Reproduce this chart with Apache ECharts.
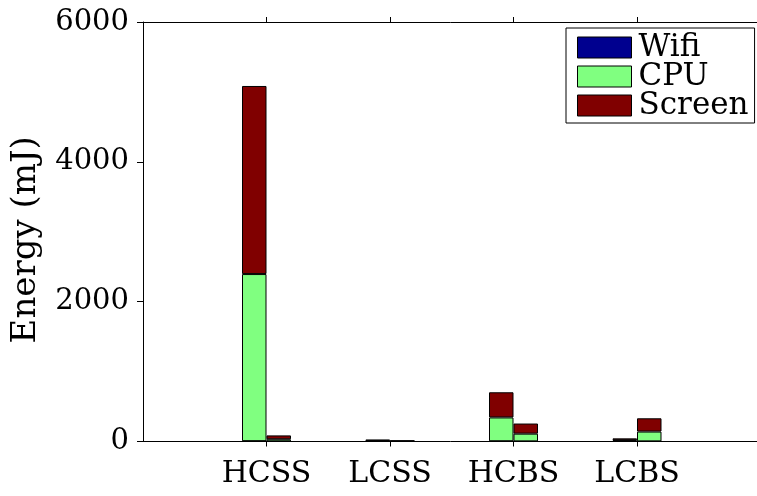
<!DOCTYPE html>
<html>
<head>
<meta charset="utf-8">
<script src="https://cdn.jsdelivr.net/npm/echarts@6/dist/echarts.min.js"></script>
<style>
html,body{margin:0;padding:0;background:#fff;}
#chart{width:757px;height:496px;}
</style>
</head>
<body>
<div id="chart"></div>
<script>
const categories = ['HCSS', 'LCSS', 'HCBS', 'LCBS'];
const yTicks = [0, 2000, 4000, 6000];
// left bar of each group
const wifiLeft = [5, 5, 4, 4];
const cpuLeft = [2390, 8, 340, 15];
const screenLeft = [2690, 12, 360, 26];
// right bar of each group
const wifiRight = [2, 2, 2, 2];
const cpuRight = [30, 4, 110, 140];
const screenRight = [55, 5, 145, 190];

const FONT = 'DejaVu Serif';
const axisCats = [''].concat(categories, ['']);
const pad = arr => ['-'].concat(arr, ['-']);
const colors = { Wifi: '#00008F', CPU: '#80FF80', Screen: '#800000' };

function bar(name, stack, data) {
  return {
    name: name, type: 'bar', stack: stack, data: pad(data),
    barWidth: 24.5, barGap: '0%',
    itemStyle: { color: colors[name], borderColor: '#000', borderWidth: 1 },
    emphasis: { disabled: true }
  };
}

const chart = echarts.init(document.getElementById('chart'), null, { renderer: 'canvas' });
const showTick = (i, v) => v !== '';
chart.setOption({
  animation: false,
  backgroundColor: '#fff',
  textStyle: { fontFamily: FONT },
  grid: { left: 143, top: 22, width: 617.5, bottom: 54.5, containLabel: false, outerBoundsMode: 'none' },
  legend: {
    orient: 'vertical', left: 566, top: 28,
    data: ['Wifi', 'CPU', 'Screen'],
    itemWidth: 54, itemHeight: 21, itemGap: -2,
    padding: [4, 6, 2, 11],
    backgroundColor: '#fff', borderColor: '#000', borderWidth: 1, borderRadius: 0,
    icon: 'rect',
    itemStyle: { borderColor: '#000', borderWidth: 1 },
    textStyle: { fontFamily: FONT, fontSize: 31, color: '#000', padding: [0, 0, 0, 2] },
    selectedMode: false
  },
  xAxis: [{
    type: 'category', data: axisCats, boundaryGap: false, position: 'bottom',
    axisLine: { lineStyle: { color: '#000', width: 1 } },
    axisTick: { show: true, inside: false, length: 5, interval: showTick, lineStyle: { color: '#000' } },
    axisLabel: { interval: showTick, fontFamily: FONT, fontSize: 30, color: '#000', margin: 18 },
    splitLine: { show: false }
  }, {
    type: 'category', data: axisCats, boundaryGap: false, position: 'top',
    axisLine: { lineStyle: { color: '#000', width: 1 } },
    axisTick: { show: true, inside: false, length: 5, interval: showTick, lineStyle: { color: '#000' } },
    axisLabel: { show: false },
    splitLine: { show: false }
  }],
  yAxis: {
    type: 'value', min: yTicks[0], max: yTicks[yTicks.length - 1], interval: 2000,
    name: 'Energy (mJ)', nameLocation: 'middle', nameGap: 100,
    nameTextStyle: { fontFamily: FONT, fontSize: 34, color: '#000', padding: [0, 16, 0, 0] },
    axisLine: { show: true, lineStyle: { color: '#000', width: 1 } },
    axisTick: { show: true, inside: false, length: 6, lineStyle: { color: '#000' } },
    axisLabel: { fontFamily: FONT, fontSize: 29, color: '#000', margin: 14, formatter: v => String(v) },
    splitLine: { show: false }
  },
  series: [
    bar('Wifi', 'L', wifiLeft),
    bar('CPU', 'L', cpuLeft),
    bar('Screen', 'L', screenLeft),
    bar('Wifi', 'R', wifiRight),
    bar('CPU', 'R', cpuRight),
    bar('Screen', 'R', screenRight)
  ]
});
</script>
</body>
</html>
